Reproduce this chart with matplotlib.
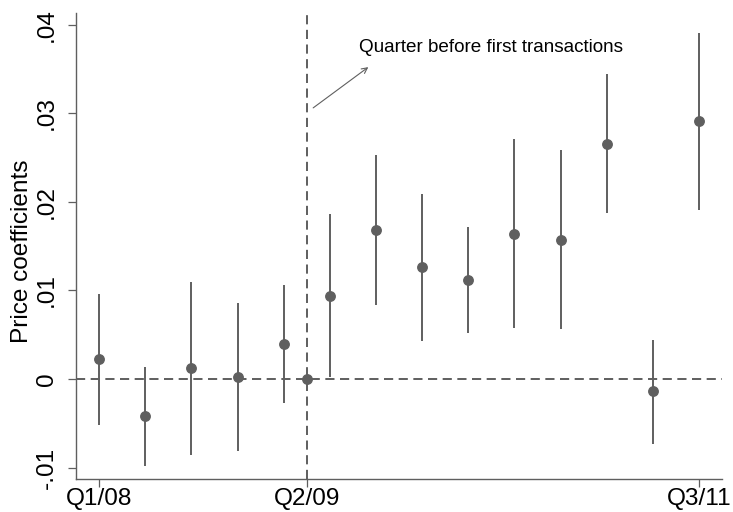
import numpy as np
import matplotlib
matplotlib.use("Agg")
import matplotlib.pyplot as plt

plt.rcParams['font.family'] = ['Liberation Sans', 'DejaVu Sans']

# quarter index (Q1/08 = 0); the omitted reference quarter sits half way
quarter_pos = [0, 1, 2, 3, 4, 4.5, 5, 6, 7, 8, 9, 10, 11, 12, 13]
coef = [0.0022, -0.0042, 0.0012, 0.0002, 0.0040, 0.0, 0.0094, 0.0168,
        0.0126, 0.0112, 0.0164, 0.0157, 0.0265, -0.0014, 0.0291]
ci_low = [-0.0052, -0.0098, -0.0086, -0.0081, -0.0027, np.nan, 0.0002, 0.0084,
          0.0043, 0.0052, 0.0058, 0.0056, 0.0187, -0.0073, 0.0191]
ci_high = [0.0096, 0.0013, 0.0110, 0.0086, 0.0106, np.nan, 0.0186, 0.0253,
           0.0209, 0.0171, 0.0271, 0.0258, 0.0344, 0.0044, 0.0390]

xtick_pos = [0, 4.5, 13]
xtick_labels = ["Q1/08", "Q2/09", "Q3/11"]
ytick_vals = [-0.01, 0, 0.01, 0.02, 0.03, 0.04]
ytick_labels = ["-.01", "0", ".01", ".02", ".03", ".04"]

grey = "#5f5f5f"

fig = plt.figure(figsize=(7.33, 5.12), dpi=100)
ax = fig.add_axes([76/733, 33/512, 646/733, 466/512])

ax.axhline(0, color="#333333", lw=1.1, ls=(0, (6, 3.6)), zorder=1)
ax.axvline(4.5, color="#333333", lw=1.1, ls=(0, (6, 3.6)), zorder=1)

x = np.array(quarter_pos)
lo = np.array(ci_low)
hi = np.array(ci_high)
ok = ~np.isnan(lo)
ax.vlines(x[ok], lo[ok], hi[ok], color=grey, lw=1.4, zorder=2)
ax.plot(x, coef, "o", color=grey, ms=6.8, zorder=3)

# arrow from the reference line up towards the note
ax.annotate("", xy=(5.835, 0.0352), xytext=(4.64, 0.0306),
            arrowprops=dict(arrowstyle="->", color=grey, lw=0.8, shrinkA=0, shrinkB=0))
ax.text(5.64, 0.0374, "Quarter before first transactions", fontsize=13.6,
        ha="left", va="center", color="black")

ax.set_xlim(-0.5, 13.5)
ax.set_ylim(-0.01129, 0.04131)
ax.set_xticks(xtick_pos)
ax.set_xticklabels(xtick_labels, fontsize=17.6)
ax.set_yticks(ytick_vals)
ax.set_yticklabels(ytick_labels, fontsize=17.6, rotation=90, va="center")
ax.set_ylabel("Price coefficients", fontsize=17.6)
ax.yaxis.set_label_coords(-0.066, 0.488)

for s in ["top", "right"]:
    ax.spines[s].set_visible(False)
for s in ["left", "bottom"]:
    ax.spines[s].set_color(grey)
    ax.spines[s].set_linewidth(1.0)
ax.tick_params(length=5.8, width=0.9, color=grey)
ax.tick_params(axis="x", pad=1)
ax.tick_params(axis="y", pad=7)

fig.savefig("out.png", dpi=100)
